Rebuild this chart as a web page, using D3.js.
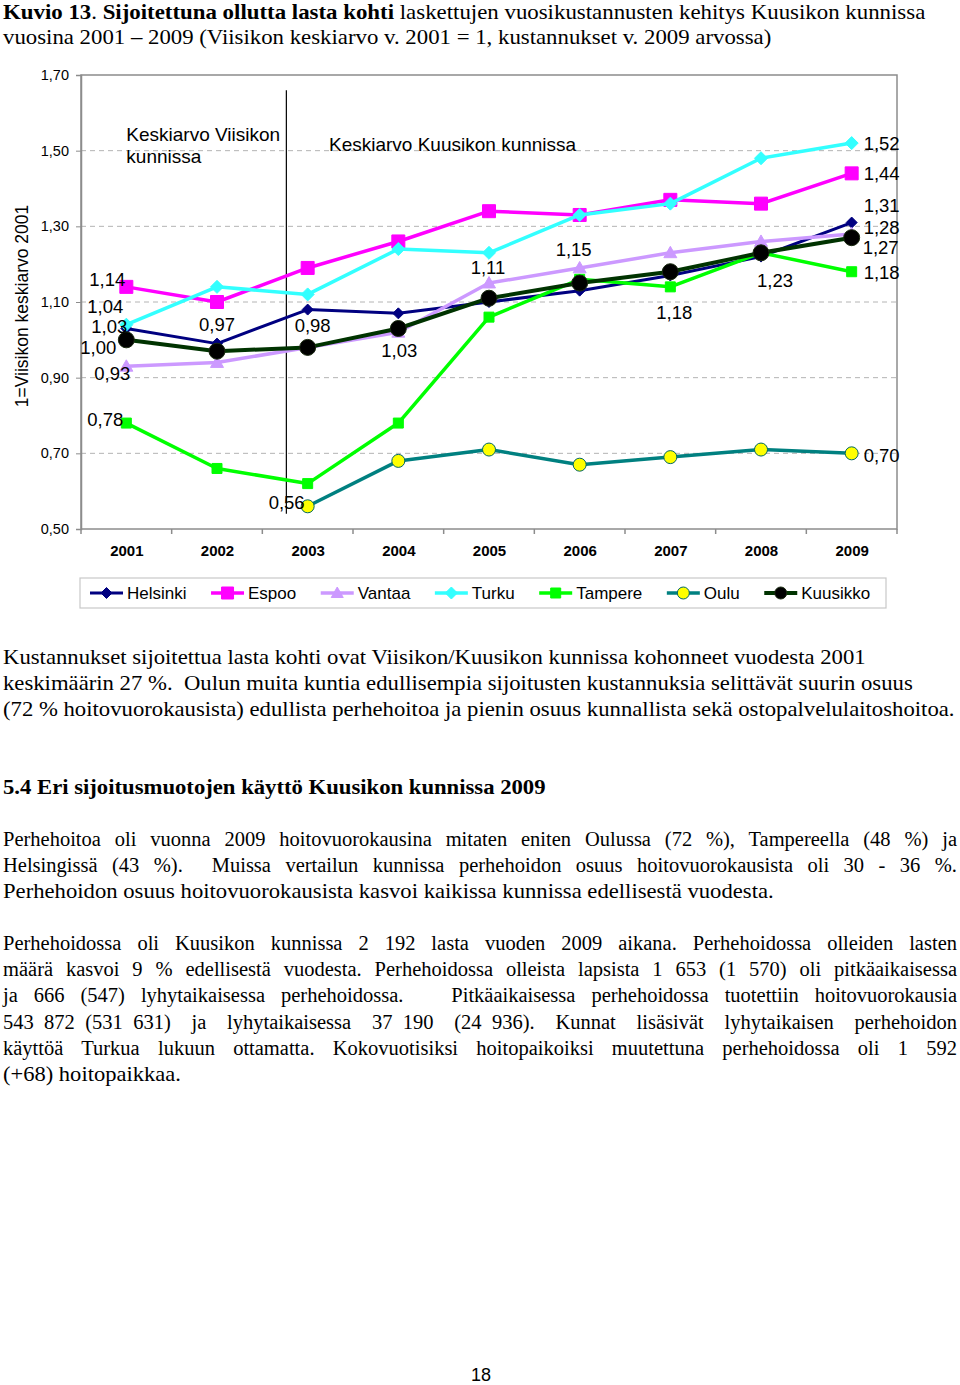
<!DOCTYPE html>
<html><head><meta charset="utf-8">
<script src="https://cdn.jsdelivr.net/npm/d3@7"></script>
<style>html,body{margin:0;padding:0;background:#fff;}svg{display:block;}</style>
</head><body>
<script>
// ---------- data ----------
const years = [2001, 2002, 2003, 2004, 2005, 2006, 2007, 2008, 2009];
const helsinki = [1.03, 0.99, 1.08, 1.07, 1.10, 1.13, 1.17, 1.22, 1.31];
const espoo    = [1.14, 1.10, 1.19, 1.26, 1.34, 1.33, 1.37, 1.36, 1.44];
const vantaa   = [0.93, 0.94, 0.98, 1.02, 1.15, 1.19, 1.23, 1.26, 1.28];
const turku    = [1.04, 1.14, 1.12, 1.24, 1.23, 1.33, 1.36, 1.48, 1.52];
const tampere  = [0.78, 0.66, 0.62, 0.78, 1.06, 1.16, 1.14, 1.23, 1.18];
const oulu     = [null, null, 0.56, 0.68, 0.71, 0.67, 0.69, 0.71, 0.70];
const kuusikko = [1.00, 0.97, 0.98, 1.03, 1.11, 1.15, 1.18, 1.23, 1.27];
const seriesNames = ["Helsinki", "Espoo", "Vantaa", "Turku", "Tampere", "Oulu", "Kuusikko"];
const yTicks = [0.5, 0.7, 0.9, 1.1, 1.3, 1.5, 1.7];
const yTitle = "1=Viisikon keskiarvo 2001";
const noteLeft = ["Keskiarvo Viisikon", "kunnissa"];
const noteRight = "Keskiarvo Kuusikon kunnissa";
// data labels: [series, year]
const labelPoints = [
  ["Espoo",2001],["Turku",2001],["Helsinki",2001],["Kuusikko",2001],["Vantaa",2001],["Tampere",2001],
  ["Kuusikko",2002],["Kuusikko",2003],["Oulu",2003],["Kuusikko",2004],["Kuusikko",2005],
  ["Kuusikko",2006],["Kuusikko",2007],["Kuusikko",2008],
  ["Turku",2009],["Espoo",2009],["Helsinki",2009],["Vantaa",2009],["Kuusikko",2009],["Tampere",2009],["Oulu",2009]
];
const titleLine1 = [["Kuvio 13",true],[". ",false],["Sijoitettuna ollutta lasta kohti",true],[" laskettujen vuosikustannusten kehitys Kuusikon kunnissa",false]];
const titleLine2 = "vuosina 2001 – 2009 (Viisikon keskiarvo v. 2001 = 1, kustannukset v. 2009 arvossa)";
const para1 = [
  "Kustannukset sijoitettua lasta kohti ovat Viisikon/Kuusikon kunnissa kohonneet vuodesta 2001",
  "keskimäärin 27 %.  Oulun muita kuntia edullisempia sijoitusten kustannuksia selittävät suurin osuus",
  "(72 % hoitovuorokausista) edullista perhehoitoa ja pienin osuus kunnallista sekä ostopalvelulaitoshoitoa."
];
const heading = "5.4 Eri sijoitusmuotojen käyttö Kuusikon kunnissa 2009";
const para2 = [
  "Perhehoitoa oli vuonna 2009 hoitovuorokausina mitaten eniten Oulussa (72 %), Tampereella (48 %) ja",
  "Helsingissä (43 %).  Muissa vertailun kunnissa perhehoidon osuus hoitovuorokausista oli 30 - 36 %.",
  "Perhehoidon osuus hoitovuorokausista kasvoi kaikissa kunnissa edellisestä vuodesta."
];
const para3 = [
  "Perhehoidossa oli Kuusikon kunnissa 2 192 lasta vuoden 2009 aikana. Perhehoidossa olleiden lasten",
  "määrä kasvoi 9 % edellisestä vuodesta. Perhehoidossa olleista lapsista 1 653 (1 570) oli pitkäaikaisessa",
  "ja 666 (547) lyhytaikaisessa perhehoidossa.   Pitkäaikaisessa perhehoidossa tuotettiin hoitovuorokausia",
  "543 872 (531 631)  ja  lyhytaikaisessa  37 190  (24 936).  Kunnat  lisäsivät  lyhytaikaisen  perhehoidon",
  "käyttöä Turkua lukuun ottamatta. Kokovuotisiksi hoitopaikoiksi muutettuna perhehoidossa oli 1 592",
  "(+68) hoitopaikkaa."
];
const pageNumber = "18";

// ---------- layout ----------
const W = 960, H = 1385;
const svg = d3.select("body").append("svg").attr("width", W).attr("height", H);
svg.append("rect").attr("width", W).attr("height", H).attr("fill", "#fff");
const SANS = "Liberation Sans, Arial, sans-serif";
const SERIF = "Liberation Serif, Times New Roman, serif";

const x = d3.scalePoint().domain(years).range([81, 897]).padding(0.5);
const step = x.step();
const y = d3.scaleLinear().domain([0.5, 1.7]).range([529, 75]);
const fmt = v => d3.format(".2f")(v).replace(".", ",");

const styles = {
  Helsinki: {data: helsinki, line: "#000080", lw: 3, shape: "diamond", r: 5.5, fill: "#000080", stroke: "#000080"},
  Espoo:    {data: espoo, line: "#FF00FF", lw: 3.5, shape: "square", r: 6.5, fill: "#FF00FF", stroke: "#FF00FF"},
  Vantaa:   {data: vantaa, line: "#CC99FF", lw: 3.5, shape: "triangle", r: 6.5, fill: "#CC99FF", stroke: "#CC99FF"},
  Turku:    {data: turku, line: "#33FFFF", lw: 3.5, shape: "diamond", r: 6.5, fill: "#33FFFF", stroke: "#33FFFF"},
  Tampere:  {data: tampere, line: "#00FF00", lw: 3.5, shape: "square", r: 5, fill: "#00FF00", stroke: "#00FF00"},
  Oulu:     {data: oulu, line: "#008080", lw: 3.5, shape: "circle", r: 6.5, fill: "#FFFF00", stroke: "#006666"},
  Kuusikko: {data: kuusikko, line: "#003300", lw: 4, shape: "circle", r: 8, fill: "#000000", stroke: "#1a2a10"}
};

function markerPath(shape, r) {
  if (shape === "diamond") return `M0,${-r}L${r},0L0,${r}L${-r},0Z`;
  if (shape === "square") return `M${-r},${-r}H${r}V${r}H${-r}Z`;
  if (shape === "triangle") return `M0,${-r}L${r},${r*0.75}L${-r},${r*0.75}Z`;
  return d3.arc()({innerRadius: 0, outerRadius: r, startAngle: 0, endAngle: 2 * Math.PI});
}

// ---------- plot frame ----------
const g = svg.append("g");
g.selectAll("line.grid").data(yTicks.filter(t => t > 0.5 && t < 1.7)).enter().append("line")
  .attr("x1", 81).attr("x2", 897).attr("y1", d => y(d)).attr("y2", d => y(d))
  .attr("stroke", "#b4b4b4").attr("stroke-width", 1).attr("stroke-dasharray", "5,4");
g.append("rect").attr("x", 81).attr("y", y(1.7)).attr("width", 816).attr("height", y(0.5) - y(1.7))
  .attr("fill", "none").attr("stroke", "#8c8c8c").attr("stroke-width", 1.5);
const yAxis = d3.axisLeft(y).tickValues(yTicks).tickFormat(fmt).tickSize(5).tickPadding(7);
const ya = g.append("g").attr("transform", "translate(81,0)").call(yAxis);
ya.select(".domain").attr("stroke", "#8c8c8c").attr("stroke-width", 1.5);
ya.selectAll(".tick line").attr("stroke", "#8c8c8c");
ya.selectAll(".tick text").attr("font-family", SANS).attr("font-size", 14.5).attr("fill", "#000");
const xa = g.append("g").attr("transform", `translate(0,${y(0.5)})`).call(d3.axisBottom(x).tickSize(0).tickPadding(16));
xa.select(".domain").remove();
xa.selectAll(".tick text").attr("font-family", SANS).attr("font-size", 15).attr("font-weight", "bold").attr("fill", "#000");
g.selectAll("line.xtick").data(d3.range(years.length + 1)).enter().append("line")
  .attr("x1", i => 81 + i * step).attr("x2", i => 81 + i * step)
  .attr("y1", y(0.5)).attr("y2", y(0.5) + 5).attr("stroke", "#8c8c8c").attr("stroke-width", 1.5);

svg.append("text").attr("transform", `translate(28,${(y(0.5)+y(1.7))/2 + 4}) rotate(-90)`)
  .attr("text-anchor", "middle").attr("font-family", SANS).attr("font-size", 17.5).text(yTitle);

g.append("line").attr("x1", x(2003) - 0.235 * step).attr("x2", x(2003) - 0.235 * step)
  .attr("y1", y(1.66)).attr("y2", y(0.54)).attr("stroke", "#000").attr("stroke-width", 1.2);

g.append("text").attr("x", x(2001)).attr("y", 141).attr("font-family", SANS).attr("font-size", 19)
  .selectAll("tspan").data(noteLeft).enter().append("tspan").attr("x", x(2001)).attr("dy", (d, i) => i ? 22 : 0).text(d => d);
g.append("text").attr("x", 329).attr("y", 151).attr("font-family", SANS).attr("font-size", 19).text(noteRight);

// ---------- series ----------
seriesNames.forEach(name => {
  const s = styles[name];
  const pts = years.map((yr, i) => ({yr, v: s.data[i]})).filter(d => d.v != null);
  g.append("path").datum(pts).attr("fill", "none").attr("stroke", s.line).attr("stroke-width", s.lw)
    .attr("stroke-linejoin", "round")
    .attr("d", d3.line().x(d => x(d.yr)).y(d => y(d.v)));
  g.selectAll(null).data(pts).enter().append("path")
    .attr("transform", d => `translate(${x(d.yr)},${y(d.v)})`)
    .attr("d", markerPath(s.shape, s.r)).attr("fill", s.fill).attr("stroke", s.stroke).attr("stroke-width", 1);
});

// ---------- data labels ----------
const labelOffsets = {
  "Espoo2001": [-19, -8, "middle"], "Turku2001": [-21, -18, "middle"], "Helsinki2001": [-17, -2, "middle"],
  "Kuusikko2001": [-28, 8, "middle"], "Vantaa2001": [-14, 7, "middle"], "Tampere2001": [-21, -4, "middle"],
  "Kuusikko2002": [0, -27, "middle"], "Kuusikko2003": [5, -22, "middle"], "Oulu2003": [-21, -4, "middle"],
  "Kuusikko2004": [1, 22, "middle"], "Kuusikko2005": [-1, -31, "middle"], "Kuusikko2006": [-6, -34, "middle"],
  "Kuusikko2007": [4, 41, "middle"], "Kuusikko2008": [14, 28, "middle"],
  "Turku2009": [12, 0, "start"], "Espoo2009": [12, 0, "start"], "Helsinki2009": [12, -17, "start"],
  "Vantaa2009": [12, -7, "start"], "Kuusikko2009": [11, 10, "start"], "Tampere2009": [12, 1, "start"], "Oulu2009": [12, 2, "start"]
};
labelPoints.forEach(([name, yr]) => {
  const v = styles[name].data[years.indexOf(yr)];
  const o = labelOffsets[name + yr];
  g.append("text").attr("x", x(yr) + o[0]).attr("y", y(v) + o[1]).attr("dy", "0.36em")
    .attr("text-anchor", o[2]).attr("font-family", SANS).attr("font-size", 18.5).attr("fill", "#000").text(fmt(v));
});

// ---------- legend ----------
const lg = svg.append("g");
lg.append("rect").attr("x", 80).attr("y", 578).attr("width", 806).attr("height", 30)
  .attr("fill", "#fff").attr("stroke", "#c8c8c8").attr("stroke-width", 1.2);
let lx = 90;
seriesNames.forEach(name => {
  const s = styles[name];
  const it = lg.append("g").attr("transform", `translate(${lx},593)`);
  it.append("line").attr("x1", 0).attr("x2", 33).attr("stroke", s.line).attr("stroke-width", s.lw);
  it.append("path").attr("transform", "translate(16.5,0)").attr("d", markerPath(s.shape, Math.min(s.r, 6)))
    .attr("fill", s.fill).attr("stroke", s.stroke).attr("stroke-width", 1);
  const t = it.append("text").attr("x", 37).attr("dy", "0.36em").attr("font-family", SANS).attr("font-size", 17).text(name);
  lx += 37 + t.node().getComputedTextLength() + 24.5;
});

// ---------- body text ----------
function fitLine(sel, left, width, justify) {
  const w = sel.node().getComputedTextLength();
  if (justify) {
    const n = (sel.text().match(/ /g) || []).length;
    if (n > 0) sel.attr("word-spacing", (width - w) / n);
  } else if (width) {
    const k = width / w;
    sel.attr("transform", `translate(${left},0) scale(${k},1) translate(${-left},0)`);
  }
}
const t1 = svg.append("text").attr("x", 3).attr("y", 19).attr("font-family", SERIF).attr("font-size", 21);
titleLine1.forEach(([s, b]) => t1.append("tspan").attr("font-weight", b ? "bold" : "normal").text(s));
fitLine(t1, 3, 923, false);
const t2 = svg.append("text").attr("x", 3).attr("y", 44).attr("font-family", SERIF).attr("font-size", 21).text(titleLine2);
fitLine(t2, 3, 769, false);

function para(lines, y0, widths, justs) {
  lines.forEach((ln, i) => {
    const t = svg.append("text").attr("x", 3).attr("y", y0 + i * 26.2).attr("font-family", SERIF)
      .attr("font-size", 20.5).style("white-space", "pre").text(ln);
    fitLine(t, 3, widths[i], justs[i]);
  });
}
para(para1, 664, [863, 910, 952], [false, false, false]);
const hd = svg.append("text").attr("x", 3).attr("y", 794).attr("font-family", SERIF).attr("font-size", 20.5)
  .attr("font-weight", "bold").text(heading);
fitLine(hd, 3, 543, false);
para(para2, 846, [954, 954, 771], [true, true, false]);
para(para3, 950, [954, 954, 954, 954, 954, 178], [true, true, true, true, true, false]);

svg.append("text").attr("x", 481).attr("y", 1381).attr("text-anchor", "middle").attr("font-family", SANS)
  .attr("font-size", 18).text(pageNumber);
</script>
</body></html>
